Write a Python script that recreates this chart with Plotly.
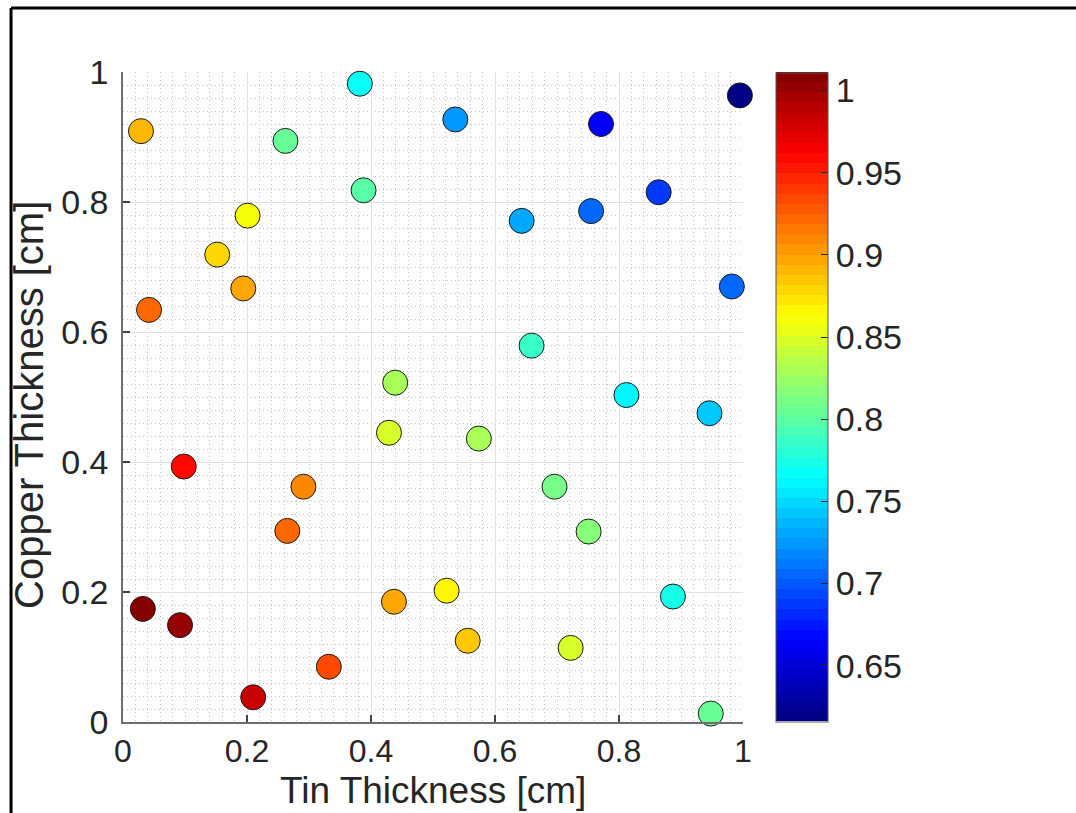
import numpy as np
import plotly.graph_objects as go

# ---- data ----
tin = [0.029, 0.382, 0.262, 0.388, 0.201, 0.152, 0.194, 0.042, 0.439,
       0.536, 0.771, 0.995, 0.864, 0.755, 0.643, 0.982, 0.659, 0.812,
       0.946, 0.574, 0.696, 0.751, 0.522, 0.887, 0.556, 0.722, 0.948,
       0.429, 0.098, 0.291, 0.265, 0.437, 0.032, 0.092, 0.332, 0.210]
copper = [0.909, 0.982, 0.894, 0.818, 0.779, 0.719, 0.667, 0.634, 0.522,
          0.927, 0.920, 0.964, 0.815, 0.786, 0.771, 0.670, 0.579, 0.503,
          0.475, 0.436, 0.362, 0.293, 0.202, 0.193, 0.125, 0.114, 0.013,
          0.445, 0.393, 0.362, 0.294, 0.185, 0.174, 0.149, 0.085, 0.038]
value = [0.890, 0.769, 0.802, 0.795, 0.857, 0.881, 0.896, 0.922, 0.830,
         0.721, 0.665, 0.618, 0.684, 0.707, 0.733, 0.705, 0.783, 0.758,
         0.744, 0.826, 0.813, 0.819, 0.869, 0.776, 0.883, 0.845, 0.802,
         0.850, 0.959, 0.907, 0.924, 0.899, 1.010, 1.003, 0.931, 0.981]

axis_ticks = [0, 0.2, 0.4, 0.6, 0.8, 1]
axis_labels = ["0", "0.2", "0.4", "0.6", "0.8", "1"]
cbar_ticks = [0.65, 0.7, 0.75, 0.8, 0.85, 0.9, 0.95, 1.0]
cbar_labels = ["0.65", "0.7", "0.75", "0.8", "0.85", "0.9", "0.95", "1"]
x_title = "Tin Thickness [cm]"
y_title = "Copper Thickness [cm]"
c_min, c_max = 0.616, 1.011

# ---- MATLAB-style jet colormap, 64 discrete levels ----
def jet(t):
    r = np.clip(np.minimum(4 * t - 1.5, -4 * t + 4.5), 0, 1)
    g = np.clip(np.minimum(4 * t - 0.5, -4 * t + 3.5), 0, 1)
    b = np.clip(np.minimum(4 * t + 0.5, -4 * t + 2.5), 0, 1)
    return r, g, b

n = 64
colorscale = []
for i in range(n):
    t = (i + 0.5) / n
    r, g, b = jet(t)
    col = f"rgb({int(round(r*255))},{int(round(g*255))},{int(round(b*255))})"
    colorscale.append([i / n, col])
    colorscale.append([(i + 1) / n, col])

FONT = "Liberation Sans, Arial, Helvetica, sans-serif"
TXT = "#262626"

fig = go.Figure()
fig.add_trace(go.Scatter(
    x=tin, y=copper, mode="markers", cliponaxis=False,
    marker=dict(
        size=25, color=value, colorscale=colorscale, cmin=c_min, cmax=c_max,
        line=dict(color="#1a1a1a", width=1),
        colorbar=dict(
            x=1.0527, xanchor="left", xref="paper", xpad=0, ypad=0,
            y=0.5, yanchor="middle", len=0.998, lenmode="fraction",
            thickness=52, outlinecolor="#555555", outlinewidth=1,
            tickmode="array", tickvals=cbar_ticks, ticktext=cbar_labels,
            ticks="inside", ticklen=7, tickcolor="#262626", tickwidth=1,
            tickfont=dict(family=FONT, size=34, color=TXT),
            ticklabelposition="outside",
        ),
    ),
    showlegend=False,
))

axis_common = dict(
    range=[0, 1], tickmode="array", tickvals=axis_ticks, ticktext=axis_labels,
    showgrid=True, gridcolor="#e0e0e0", gridwidth=1,
    zeroline=False, showline=True, linecolor="#6e6e6e", linewidth=1.5,
    ticks="inside", ticklen=7, tickwidth=1.5, tickcolor="#444444",
    minor=dict(dtick=0.02, showgrid=True, gridcolor="#c4c4c4",
               griddash="1px,3px", gridwidth=1, ticks=""),
    mirror=False, fixedrange=True, automargin=False,
)

fig.update_layout(
    width=1076, height=813,
    margin=dict(l=123, r=333, t=72, b=91, pad=0),
    paper_bgcolor="white", plot_bgcolor="white",
    font=dict(family=FONT, color=TXT),
    xaxis=dict(**axis_common, ticklabelstandoff=0,
               tickfont=dict(family=FONT, size=32, color=TXT)),
    yaxis=dict(**axis_common, ticklabelstandoff=6,
               tickfont=dict(family=FONT, size=34, color=TXT)),
    annotations=[
        dict(text=x_title, xref="paper", yref="paper", x=0.5, y=-0.1050,
             xanchor="center", yanchor="middle", showarrow=False,
             font=dict(family=FONT, size=37, color=TXT)),
        dict(text=y_title, xref="paper", yref="paper", x=-0.1513, y=0.488,
             xanchor="center", yanchor="middle", showarrow=False, textangle=-90,
             font=dict(family=FONT, size=40, color=TXT)),
    ],
    shapes=[
        dict(type="line", xref="paper", yref="paper",
             x0=-0.1806, x1=2.0, y0=1.0985, y1=1.0985,
             line=dict(color="black", width=3)),
        dict(type="line", xref="paper", yref="paper",
             x0=-0.1806, x1=-0.1806, y0=1.0985, y1=-0.5,
             line=dict(color="black", width=3)),
    ],
)

fig.write_html("out.html")
